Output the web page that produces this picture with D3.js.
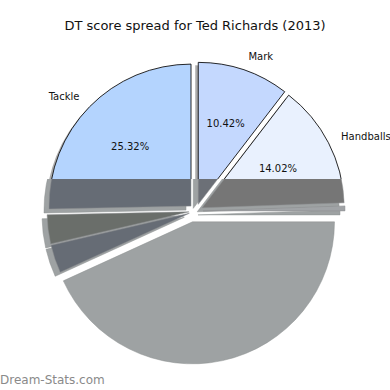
<!DOCTYPE html>
<html>
<head>
<meta charset="UTF-8">
<script src="https://d3js.org/d3.v7.min.js"></script>
<style>
  body { margin: 0; background: #fff; }
  svg { font-family: "DejaVu Sans", sans-serif; }
</style>
</head>
<body>
<div id="chart"></div>
<script>
// slices in drawing order (counterclockwise from 12 o'clock, like matplotlib startangle=90)
const labels = ["Tackle", "", "", "", "", "Handballs", "Mark"];
const values = [25.32, 3.30, 3.20, 43.18, 0.56, 14.02, 10.42];
const colors = ["#b4d4fe", "#6a6e6a", "#666c75", "#9fa3a2", "#a0a3a6", "#e9f1fe", "#c4d8fe"];
// greyed colours used below the cut line (none = only the shadow shows)
const shades = ["#666c75", "#6a6e6a", "#666c75", "none", "#a0a3a6", "#767676", "#6c7077"];

const width = 390, height = 390;
const cx = 196, cy = 211, r = 142;
const explode = 7;
const cut = 179 - cy; // below this line the pie is drawn greyed out

const svg = d3.select("#chart").append("svg")
    .attr("width", width)
    .attr("height", height);

const defs = svg.append("defs");
defs.append("clipPath").attr("id", "top")
  .append("rect").attr("x", -cx).attr("y", -cy).attr("width", width).attr("height", cut + cy);
defs.append("clipPath").attr("id", "bottom")
  .append("rect").attr("x", -cx).attr("y", cut).attr("width", width).attr("height", height);

const pie = d3.pie().sort(null).startAngle(0).endAngle(-2 * Math.PI).value(d => d);
const arcs = pie(values);
const arc = d3.arc().innerRadius(0).outerRadius(r);

const mid = d => (d.startAngle + d.endAngle) / 2;
const off = (d, k) => [k * Math.sin(mid(d)), -k * Math.cos(mid(d))];
const shift = (d, dx, dy) => { const o = off(d, explode); return `translate(${o[0] + dx},${o[1] + dy})`; };

const g = svg.append("g").attr("transform", `translate(${cx},${cy})`);

// top half: normal slices with their shadows
const topG = g.append("g").attr("clip-path", "url(#top)");
topG.selectAll("path.shadow").data(arcs).join("path")
    .attr("class", "shadow")
    .attr("d", arc)
    .attr("transform", d => shift(d, -3, 3))
    .attr("fill", "#444")
    .attr("opacity", 0.45);
topG.selectAll("path.slice").data(arcs).join("path")
    .attr("class", "slice")
    .attr("d", arc)
    .attr("transform", d => shift(d, 0, 0))
    .attr("fill", (d, i) => colors[i])
    .attr("stroke", "#111")
    .attr("stroke-width", 0.9);

// bottom half: greyed slices over light shadows
const botG = g.append("g").attr("clip-path", "url(#bottom)");
botG.selectAll("path.shadow").data(arcs).join("path")
    .attr("class", "shadow")
    .attr("d", arc)
    .attr("transform", d => shift(d, -5, 4))
    .attr("fill", "#9ea2a3")
    .attr("stroke", "#8d9091")
    .attr("stroke-width", 0.5);
botG.selectAll("path.slice").data(arcs).join("path")
    .attr("class", "slice")
    .attr("d", arc)
    .attr("transform", d => shift(d, 0, 0))
    .attr("fill", (d, i) => shades[i])
    .attr("stroke", (d, i) => shades[i] === "none" ? "none" : "#8a8d8e")
    .attr("stroke-width", 0.5);

// labels
const named = arcs.filter((d, i) => labels[i] !== "");
g.selectAll("text.label").data(named).join("text")
    .attr("class", "label")
    .attr("x", d => off(d, explode)[0] + off(d, 1.1 * r)[0])
    .attr("y", d => off(d, explode)[1] + off(d, 1.1 * r)[1])
    .attr("text-anchor", d => Math.sin(mid(d)) > 0 ? "start" : "end")
    .attr("dominant-baseline", "central")
    .attr("font-size", "10px")
    .attr("fill", "#111")
    .text(d => labels[d.index]);

g.selectAll("text.pct").data(named).join("text")
    .attr("class", "pct")
    .attr("x", d => off(d, explode)[0] + off(d, 0.6 * r)[0])
    .attr("y", d => off(d, explode)[1] + off(d, 0.6 * r)[1])
    .attr("text-anchor", "middle")
    .attr("dominant-baseline", "central")
    .attr("font-size", "10px")
    .attr("fill", "#111")
    .text(d => d.data.toFixed(2) + "%");

// title
svg.append("text")
    .attr("x", 195)
    .attr("y", 25)
    .attr("text-anchor", "middle")
    .attr("dominant-baseline", "central")
    .attr("font-size", "13px")
    .attr("fill", "#111")
    .text("DT score spread for Ted Richards (2013)");

// watermark
svg.append("text")
    .attr("x", 0)
    .attr("y", 380)
    .attr("dominant-baseline", "central")
    .attr("font-size", "12px")
    .attr("fill", "#8a8a8a")
    .text("Dream-Stats.com");
</script>
</body>
</html>
